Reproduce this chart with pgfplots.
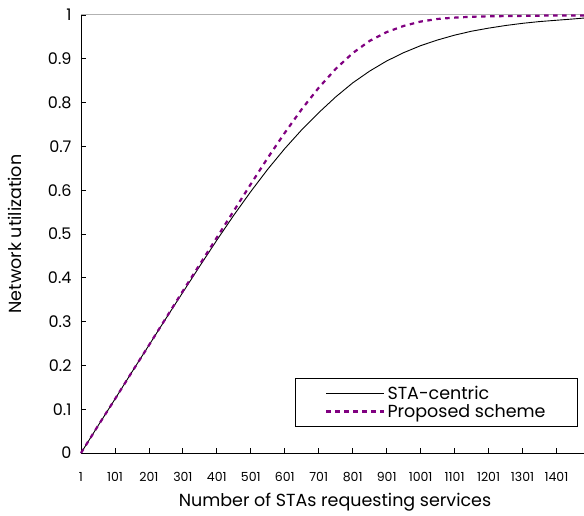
\documentclass[border=0pt]{standalone}
\usepackage{fontspec}
\setmainfont{Poppins}
\usepackage{pgfplots}
\pgfplotsset{compat=1.18}
\definecolor{purp}{RGB}{128,0,128}
\begin{document}
\begin{tikzpicture}
\begin{axis}[
  scale only axis,
  width=503pt, height=438pt,
  xmin=1, xmax=1482, ymin=0, ymax=1,
  axis x line*=bottom, axis y line*=left,
  axis line style={black, line width=0.8pt, -},
  xtick={1,101,201,301,401,501,601,701,801,901,1001,1101,1201,1301,1401},
  ytick={0,0.1,0.2,0.3,0.4,0.5,0.6,0.7,0.8,0.9,1},
  yticklabels={0,0.1,0.2,0.3,0.4,0.5,0.6,0.7,0.8,0.9,1},
  xticklabels={1,101,201,301,401,501,601,701,801,901,1001,1101,1201,1301,1401},
  tick align=inside,
  major tick length=5pt,
  tick style={black, line width=0.8pt},
  /pgf/number format/assume math mode=true,
  yticklabel style={font=\fontsize{16}{18}\selectfont, xshift=-6pt},
  xticklabel style={font=\fontsize{12.5}{14}\selectfont, yshift=-16pt},
  xlabel={Number of STAs requesting services},
  ylabel={Network utilization},
  xlabel style={font=\fontsize{17.5}{19}\selectfont, at={(axis description cs:0.505,-0.112)}, anchor=center},
  ylabel style={font=\fontsize{17.5}{19}\selectfont, at={(axis description cs:-0.131,0.5)}, anchor=center},
  legend style={at={(axis description cs:0.988,0.171)}, anchor=north east,
    draw=black, line width=0.8pt, font=\fontsize{17.5}{19}\selectfont,
    inner xsep=30pt, inner ysep=7pt, row sep=1pt,
    nodes={inner ysep=1pt}},
  legend cell align=left,
  legend image code/.code={\draw[#1] (0pt,0pt) -- (58pt,0pt);},
  clip=false,
]
\draw[gray!60, line width=1pt] (rel axis cs:0,1) -- (rel axis cs:1,1);
\addplot[black, line width=0.9pt] coordinates {
(1,0) (51,0.062) (101,0.123) (151,0.185) (201,0.246) (251,0.307) (301,0.367)
(351,0.427) (401,0.486) (451,0.543) (501,0.597) (551,0.648) (601,0.695)
(651,0.738) (701,0.777) (751,0.813) (801,0.845) (851,0.872) (901,0.895)
(951,0.914) (1001,0.930) (1051,0.943) (1101,0.954) (1151,0.963) (1201,0.970)
(1251,0.976) (1301,0.981) (1351,0.985) (1401,0.988) (1451,0.991) (1482,0.993)};
\addlegendentry{STA-centric}
\addplot[purp, line width=2.2pt, dash pattern=on 4.5pt off 4.5pt] coordinates {
(1,0) (51,0.062) (101,0.123) (151,0.185) (201,0.246) (251,0.308) (301,0.370)
(351,0.431) (401,0.492) (451,0.553) (501,0.614) (551,0.674) (601,0.731)
(651,0.785) (701,0.834) (751,0.877) (801,0.913) (851,0.941) (901,0.961)
(951,0.975) (1001,0.985) (1051,0.991) (1101,0.994) (1151,0.996) (1201,0.997)
(1301,0.998) (1401,0.999) (1482,0.999)};
\addlegendentry{Proposed scheme}
\end{axis}
\pgfresetboundingbox
\path (-81pt,-62pt) rectangle (503pt,453pt);
\end{tikzpicture}
\end{document}
